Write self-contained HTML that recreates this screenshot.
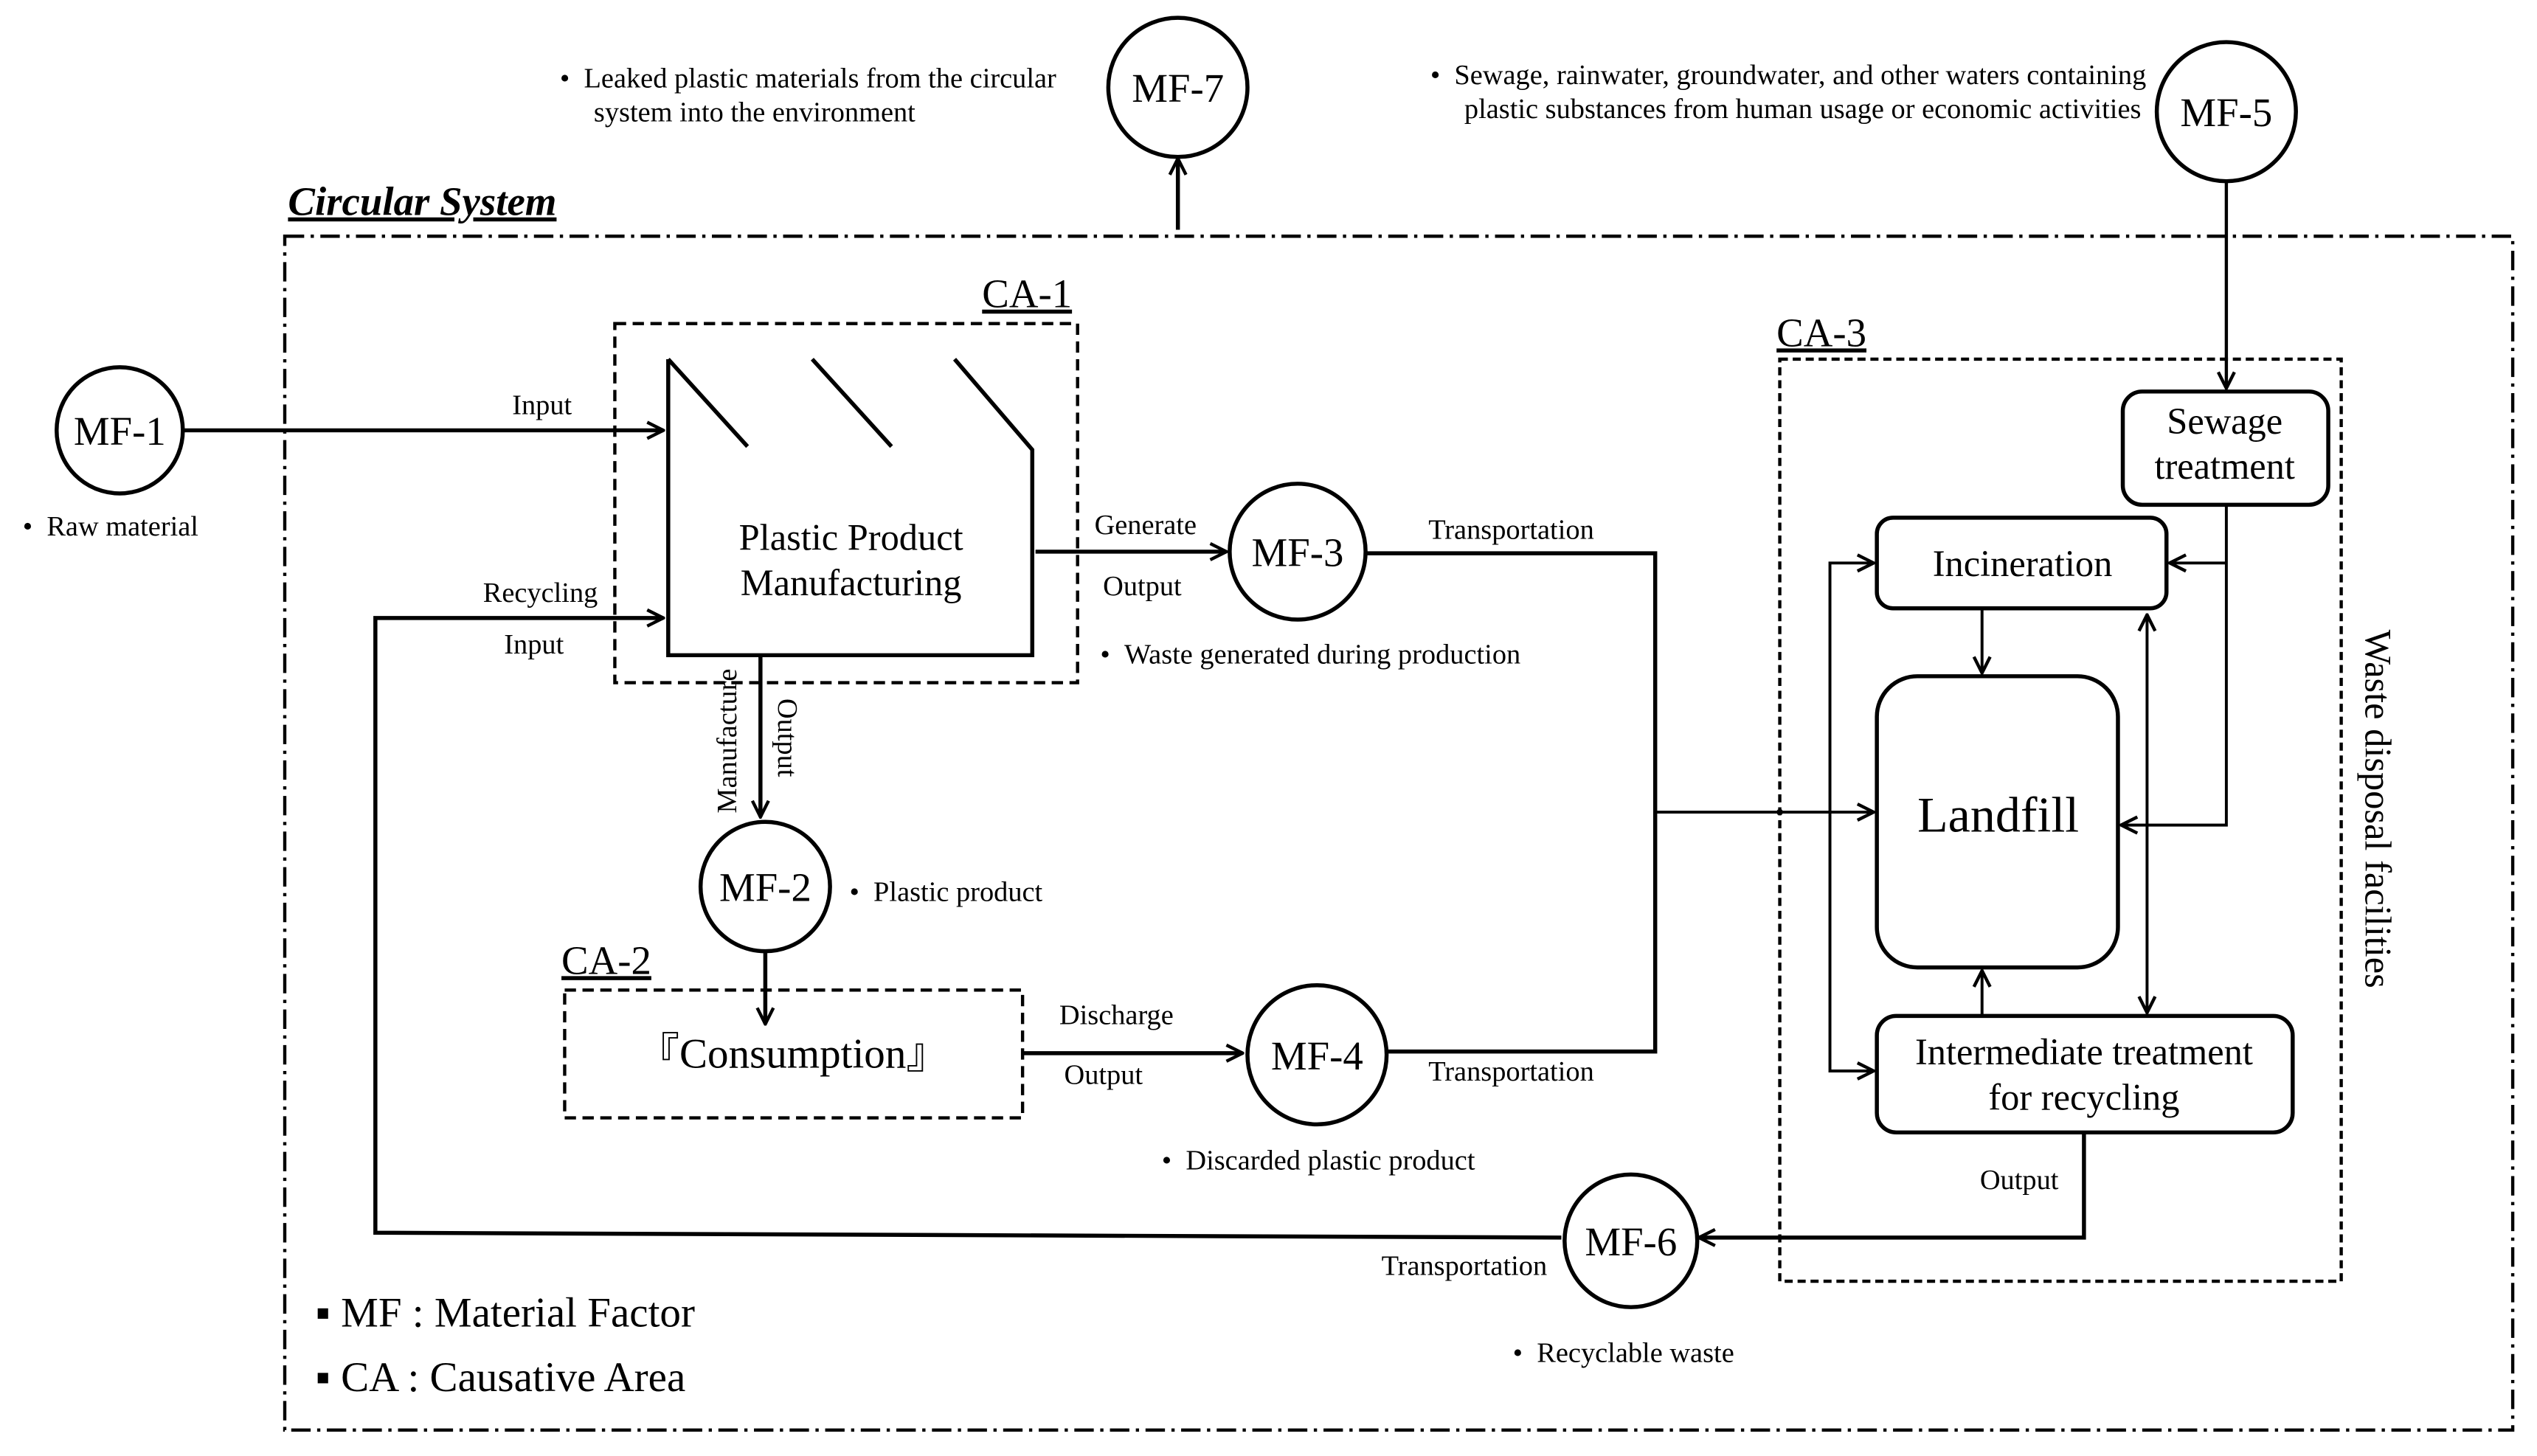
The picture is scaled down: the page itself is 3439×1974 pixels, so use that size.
<!DOCTYPE html>
<html><head><meta charset="utf-8"><style>html,body{margin:0;padding:0;background:#fff}svg{display:block}</style></head>
<body>
<svg width="3439" height="1974" viewBox="0 0 1568 900" xmlns="http://www.w3.org/2000/svg" font-family="'Liberation Serif', serif" fill="#000">
<defs>
<marker id="a" viewBox="0 0 12 12" refX="11" refY="6" markerWidth="12" markerHeight="12" markerUnits="userSpaceOnUse" orient="auto-start-reverse">
<path d="M1,1 L11,6 L1,11" fill="none" stroke="#000" stroke-width="2"/>
</marker>
</defs>
<g fill="none" stroke="#000" stroke-width="2.5">
<rect x="176" y="146" width="1377" height="738" stroke-width="2" stroke-dasharray="12,4,2,4"/>
<rect x="380" y="200" width="286" height="222" stroke-width="2" stroke-dasharray="7,4"/>
<rect x="349" y="612" width="283" height="79" stroke-width="2" stroke-dasharray="7,4"/>
<rect x="1100" y="222" width="347" height="570" stroke-width="2" stroke-dasharray="5,3"/>
<circle cx="728" cy="54" r="43"/>
<circle cx="1376" cy="69" r="43"/>
<circle cx="74" cy="266" r="39"/>
<circle cx="802" cy="341" r="42"/>
<circle cx="473" cy="548" r="40"/>
<circle cx="814" cy="652" r="43"/>
<circle cx="1008" cy="767" r="41"/>
<path d="M413,222 L413,405 L638,405 L638,278 L590,222"/>
<path d="M413,222 L462,276 M502,222 L551,276"/>
<rect x="1312" y="242" width="127" height="70" rx="12"/>
<rect x="1160" y="320" width="179" height="56" rx="10"/>
<rect x="1160" y="418" width="149" height="180" rx="25"/>
<rect x="1160" y="628" width="257" height="72" rx="12"/>
<path d="M728,142 L728,98" marker-end="url(#a)"/>
<path d="M1376,112 L1376,240" stroke-width="2" marker-end="url(#a)"/>
<path d="M113,266 L410,266" marker-end="url(#a)"/>
<path d="M965,765 L232,762 L232,382 L410,382" marker-end="url(#a)"/>
<path d="M470,405 L470,505" marker-end="url(#a)"/>
<path d="M473,588 L473,633" marker-end="url(#a)"/>
<path d="M632,651 L768,651" marker-end="url(#a)"/>
<path d="M640,341 L758,341" marker-end="url(#a)"/>
<path d="M844,342 L1023,342 L1023,650 L857,650"/>
<path d="M1288,700 L1288,765 L1050,765" marker-end="url(#a)"/>
</g>
<g fill="none" stroke="#000" stroke-width="1.8">
<path d="M1023,502 L1158,502" marker-end="url(#a)"/>
<path d="M1158,348 L1131,348 L1131,662 L1158,662" marker-start="url(#a)" marker-end="url(#a)"/>
<path d="M1376,312 L1376,510 L1311,510" marker-end="url(#a)"/>
<path d="M1376,348 L1341,348" marker-end="url(#a)"/>
<path d="M1225,376 L1225,416" marker-end="url(#a)"/>
<path d="M1225,628 L1225,600" marker-end="url(#a)"/>
<path d="M1327,380 L1327,626" marker-start="url(#a)" marker-end="url(#a)"/>
</g>
<circle cx="1100" cy="502" r="2"/>
<g font-size="25" text-anchor="middle">
<text x="728" y="63">MF-7</text>
<text x="1376" y="78">MF-5</text>
<text x="74" y="275">MF-1</text>
<text x="802" y="350">MF-3</text>
<text x="473" y="557">MF-2</text>
<text x="814" y="661">MF-4</text>
<text x="1008" y="776">MF-6</text>
</g>
<text x="178" y="133" font-size="25" font-weight="bold" font-style="italic" text-decoration="underline">Circular System</text>
<g font-size="25" text-decoration="underline">
<text x="607" y="190">CA-1</text>
<text x="347" y="602">CA-2</text>
<text x="1098" y="214">CA-3</text>
</g>
<g font-size="23" text-anchor="middle">
<text x="526" y="340">Plastic Product</text>
<text x="526" y="368">Manufacturing</text>
<text x="1375" y="268">Sewage</text>
<text x="1375" y="296">treatment</text>
<text x="1250" y="356">Incineration</text>
<text x="1288" y="658">Intermediate treatment</text>
<text x="1288" y="686">for recycling</text>
</g>
<text x="1235" y="514" font-size="31" text-anchor="middle">Landfill</text>
<text x="490" y="660" font-size="26" text-anchor="middle">『Consumption』</text>
<text x="1462" y="500" font-size="23" text-anchor="middle" transform="rotate(90 1462 500)">Waste disposal facilities</text>
<g font-size="17.5">
<text x="335" y="256" text-anchor="middle">Input</text>
<text x="334" y="372" text-anchor="middle">Recycling</text>
<text x="330" y="404" text-anchor="middle">Input</text>
<text x="708" y="330" text-anchor="middle">Generate</text>
<text x="706" y="368" text-anchor="middle">Output</text>
<text x="934" y="333" text-anchor="middle">Transportation</text>
<text x="934" y="668" text-anchor="middle">Transportation</text>
<text x="690" y="633" text-anchor="middle">Discharge</text>
<text x="682" y="670" text-anchor="middle">Output</text>
<text x="1248" y="735" text-anchor="middle">Output</text>
<text x="905" y="788" text-anchor="middle">Transportation</text>
<text x="455" y="458" text-anchor="middle" transform="rotate(-90 455 458)">Manufacture</text>
<text x="481" y="456" text-anchor="middle" transform="rotate(90 481 456)">Output</text>
<text x="14" y="331">•&#160;&#160;Raw material</text>
<text x="680" y="410">•&#160;&#160;Waste generated during production</text>
<text x="525" y="557">•&#160;&#160;Plastic product</text>
<text x="718" y="723">•&#160;&#160;Discarded plastic product</text>
<text x="935" y="842">•&#160;&#160;Recyclable waste</text>
<text x="346" y="54">•&#160;&#160;Leaked plastic materials from the circular</text>
<text x="367" y="75">system into the environment</text>
<text x="884" y="52">•&#160;&#160;Sewage, rainwater, groundwater, and other waters containing</text>
<text x="905" y="73">plastic substances from human usage or economic activities</text>
</g>
<g font-size="26">
<text x="195" y="820">▪ MF : Material Factor</text>
<text x="195" y="860">▪ CA : Causative Area</text>
</g>
</svg>
</body></html>
